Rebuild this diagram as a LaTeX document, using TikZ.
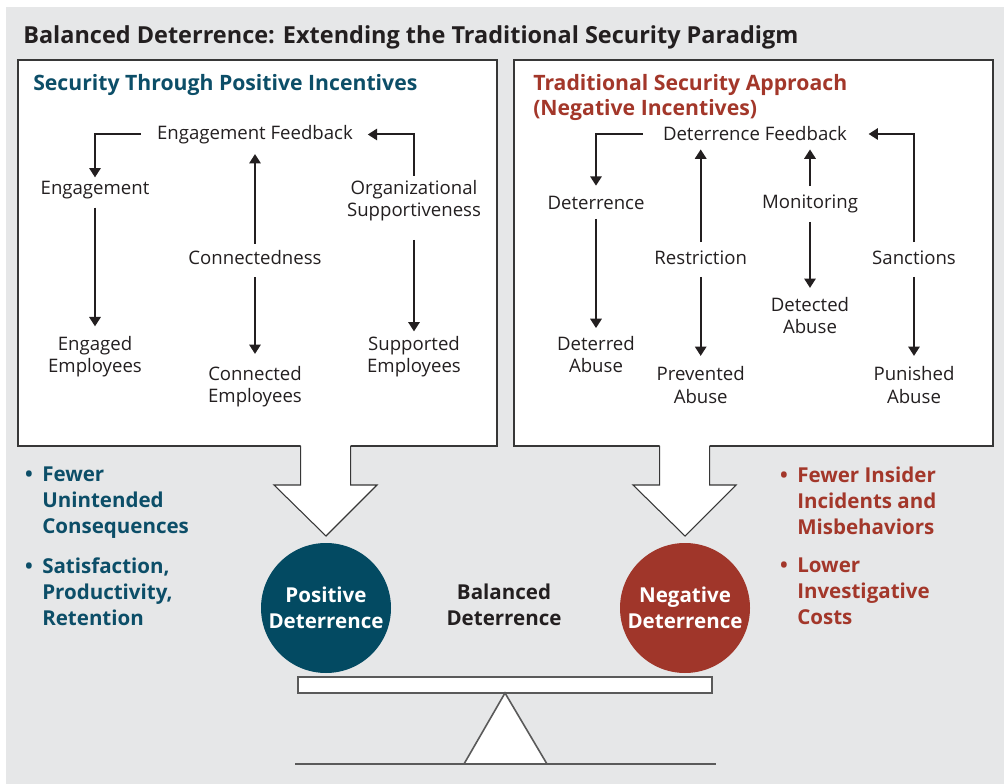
\documentclass[tikz,border=0pt]{standalone}
\usepackage{fontspec}
\setmainfont{Open Sans}
\usetikzlibrary{
  arrows.meta,
  positioning,
  calc
}
\definecolor{bgcolor}{RGB}{230, 231, 232}
\definecolor{labelcolor}{RGB}{35, 31, 32}
\definecolor{poscolor}{RGB}{12, 78, 104}
\definecolor{poscircle}{RGB}{3, 74, 98}
\definecolor{negcolor}{RGB}{163, 55, 42}
\definecolor{negcircle}{RGB}{160, 54, 42}
\definecolor{framecolor}{RGB}{55, 55, 55}
\definecolor{scalecolor}{RGB}{90, 90, 90}
\tikzset{
bodytext/.style={
  font=\fontsize{13.95}{16.9}\selectfont,
  text=labelcolor,
  align=center,
  inner sep=0pt
},
boldtext/.style={
  font=\bfseries\fontsize{15.4}{19.5}\selectfont,
  align=left,
  inner sep=0pt
},
headtext/.style={
  font=\bfseries\fontsize{15.9}{18.6}\selectfont,
  align=left,
  anchor=north west,
  inner sep=0pt
},
titlelabel/.style={
  font=\bfseries\fontsize{17.6}{20}\selectfont,
  text=labelcolor,
  anchor=north west,
  inner sep=0pt
},
panel/.style={
  draw=framecolor,
  fill=white,
  line width=0.8pt
},
deterrence/.style={
  circle,
  minimum size=97.5pt,
  inner sep=0pt,
  font=\bfseries\fontsize{15.4}{19.5}\selectfont,
  text=white,
  align=center
},
flow/.style={
  -{Triangle[length=7pt,width=8.5pt]},
  line width=1.5pt,
  draw=labelcolor,
  shorten <=7pt,
  shorten >=6.5pt
},
bigarrow/.style={
  draw=framecolor,
  line width=0.8pt
},
scaleline/.style={
  draw=scalecolor,
  line width=1.2pt
}
}

\begin{document}
\begin{tikzpicture}[x=0.75pt,y=-0.75pt]
  \useasboundingbox (0,0) rectangle (1004,784);
  \fill[bgcolor] (6,7) rectangle (1004,784);

  % title and panels
  \node[titlelabel] (title) at (23,25)
    {Balanced Deterrence: Extending the Traditional Security Paradigm};
  \draw[panel] (18,60) rectangle (497,446);
  \draw[panel] (514,60) rectangle (993,446);
  \node[headtext, text=poscolor] (poshead) at (33,74)
    {Security Through Positive Incentives};
  \node[headtext, text=negcolor] (neghead) at (533,74)
    {Traditional Security Approach\\(Negative Incentives)};

  % positive incentives
  \node[bodytext] (efb) at (255,134.5) {Engagement Feedback};
  \node[bodytext] (eng) at (95,190.5) {Engagement};
  \node[bodytext] (engemp) at (95,356.5) {Engaged\\Employees};
  \node[bodytext] (conn) at (255,258) {Connectedness};
  \node[bodytext] (connemp) at (255,386.5) {Connected\\Employees};
  \node[bodytext] (org) at (414,200.5) {Organizational\\Supportiveness};
  \node[bodytext] (suppemp) at (414,356.5) {Supported\\Employees};

  \draw[flow, shorten <=12pt, shorten >=3pt] (efb.west) -| (eng.north);
  \draw[flow, shorten <=6pt, shorten >=7pt] (eng.south) -- (engemp.north);
  \draw[flow, shorten <=5pt, shorten >=7.5pt] (conn.north) -- (efb.south);
  \draw[flow, shorten <=9pt, shorten >=8.8pt] (conn.south) -- (connemp.north);
  \draw[flow, shorten <=3pt, shorten >=11pt] (org.north) |- (efb.east);
  \draw[flow, shorten <=14pt, shorten >=3.2pt] (org.south) -- (suppemp.north);

  % negative incentives
  \node[bodytext] (dfb) at (755,134) {Deterrence Feedback};
  \node[bodytext] (det) at (596,202.7) {Deterrence};
  \node[bodytext] (detab) at (596,354.5) {Deterred\\Abuse};
  \node[bodytext] (restr) at (700.7,257.7) {Restriction};
  \node[bodytext] (prevab) at (700.7,385) {Prevented\\Abuse};
  \node[bodytext] (mon) at (810,204) {Monitoring};
  \node[bodytext] (detectab) at (810,315.5) {Detected\\Abuse};
  \node[bodytext] (sanc) at (914,257.7) {Sanctions};
  \node[bodytext] (punab) at (914,385) {Punished\\Abuse};

  \draw[flow, shorten <=15pt, shorten >=7.5pt] (dfb.west) -| (det.north);
  \draw[flow, shorten <=6.8pt, shorten >=5.8pt] (det.south) -- (detab.north);
  \draw[flow, shorten <=6.2pt, shorten >=6pt] (restr.north) -- (restr.north |- dfb.south);
  \draw[flow, shorten <=9pt, shorten >=7.8pt] (restr.south) -- (prevab.north);
  \draw[flow, shorten <=6.5pt, shorten >=6pt] (mon.north) -- (mon.north |- dfb.south);
  \draw[flow, shorten <=6.5pt, shorten >=6.7pt] (mon.south) -- (detectab.north);
  \draw[flow, shorten <=6.2pt, shorten >=16pt] (sanc.north) |- (dfb.east);
  \draw[flow, shorten <=9pt, shorten >=7.8pt] (sanc.south) -- (punab.north);

  % arrows into the scale
  \foreach \ax in {326,685} {
    \fill[white] (\ax-25.3,443) -- (\ax-25.3,485) -- (\ax-52,485) -- (\ax,536)
      -- (\ax+51,485) -- (\ax+24.7,485) -- (\ax+24.7,443) -- cycle;
    \draw[bigarrow] (\ax-25.3,446) -- (\ax-25.3,485) -- (\ax-52,485) -- (\ax,536)
      -- (\ax+51,485) -- (\ax+24.7,485) -- (\ax+24.7,446);
  }

  % the scale
  \node[deterrence, fill=poscircle] (posdet) at (326,608) {Positive\\Deterrence};
  \node[deterrence, fill=negcircle] (negdet) at (685,608) {Negative\\Deterrence};
  \node[boldtext, text=labelcolor, align=center] (baldet) at (504,605)
    {Balanced\\Deterrence};
  \draw[scaleline, fill=white] (298,677) rectangle (712,693);
  \draw[scaleline, fill=white] (505,693) -- (547,764) -- (464,764) -- cycle;
  \draw[scaleline] (295,764) -- (716,764);

  % outcomes
  \node[boldtext, text=poscolor, anchor=north west] (posout1) at (42,467)
    {\llap{\textbullet\hspace{7pt}}Fewer\\Unintended\\Consequences};
  \node[boldtext, text=poscolor, anchor=north west] (posout2) at (42,557.5)
    {\llap{\textbullet\hspace{7pt}}Satisfaction,\\Productivity,\\Retention};
  \node[boldtext, text=negcolor, anchor=north west] (negout1) at (797,467)
    {\llap{\textbullet\hspace{7pt}}Fewer Insider\\Incidents and\\Misbehaviors};
  \node[boldtext, text=negcolor, anchor=north west] (negout2) at (797,557.5)
    {\llap{\textbullet\hspace{7pt}}Lower\\Investigative\\Costs};
\end{tikzpicture}
\end{document}
